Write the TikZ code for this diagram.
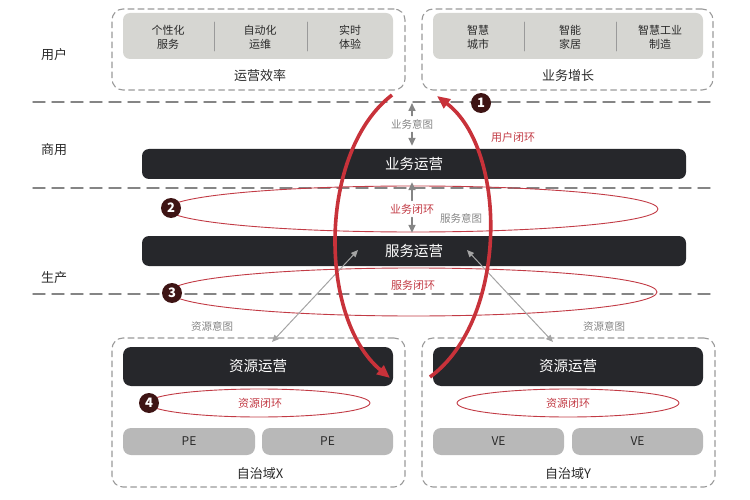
\documentclass[tikz,border=0pt]{standalone}
\usepackage{fontspec}
\setmainfont{Noto Sans CJK SC}
\usetikzlibrary{arrows.meta,calc,positioning,shapes.geometric}

\definecolor{barblack}{HTML}{26272B}
\definecolor{loopred}{HTML}{C8323A}
\definecolor{ellred}{HTML}{C23B45}
\definecolor{badgered}{HTML}{3E1414}
\definecolor{panegray}{HTML}{D6D6D2}
\definecolor{pegray}{HTML}{B8B8B8}
\definecolor{dashgray}{HTML}{9A9A9A}
\definecolor{arrgray}{HTML}{858585}
\definecolor{txtdark}{HTML}{2A2A2A}

\begin{document}
\begin{tikzpicture}[x=1pt, y=-1pt, line cap=round, line join=round,
  darkbar/.style={fill=barblack, rounded corners=7pt, text=white, inner sep=0pt,
    font=\fontsize{14.5}{16}\selectfont},
  dashbox/.style={draw=dashgray, line width=1.1pt, dash pattern=on 6pt off 4pt,
    rounded corners=11pt, inner sep=0pt},
  pebox/.style={fill=pegray, rounded corners=8pt, inner sep=0pt, text=txtdark,
    font=\fontsize{12}{13}\selectfont},
  loopell/.style={ellipse, draw=ellred, line width=0.9pt, inner sep=0pt},
  badge/.style={circle, fill=badgered, text=white, inner sep=0pt, minimum size=20pt,
    font=\fontsize{13}{14}\selectfont\bfseries},
  lbl/.style={text=txtdark, font=\fontsize{13}{14}\selectfont},
  small/.style={text=txtdark, font=\fontsize{11}{14}\selectfont, align=center},
  graylbl/.style={text=arrgray, font=\fontsize{10.5}{12}\selectfont},
  redlbl/.style={text=ellred, font=\fontsize{11}{12}\selectfont},
  intent/.style={draw=arrgray, line width=1.6pt, -{Triangle[length=8pt,width=7pt]}},
  resarrow/.style={draw=arrgray!75, line width=1pt, {Triangle[length=7pt,width=6pt]}-{Triangle[length=7pt,width=6pt]}},
  bigloop/.style={draw=loopred, line width=3.6pt, line cap=butt}]

  \useasboundingbox (0,0) rectangle (750,500);

  % layer separators
  \foreach \yy in {102,188,294}
    \draw[arrgray, line width=1.4pt, dash pattern=on 12pt off 7pt] (33,\yy) -- (715,\yy);

  % layer names
  \node[lbl] (user) at (54,55) {用户};
  \node[lbl] (biz)  at (54,150) {商用};
  \node[lbl] (prod) at (54,278) {生产};

  % top left: operation efficiency
  \node[dashbox, minimum width=293, minimum height=81] (effbox) at (258.5,49.5) {};
  \node[fill=panegray, rounded corners=7pt, minimum width=270, minimum height=46] (effpane) at (258,36) {};
  \draw[dashgray, line width=0.8pt] (214,22) -- (214,51) (307,22) -- (307,51);
  \node[small] (e1) at (168,37) {个性化\\服务};
  \node[small] (e2) at (260,37) {自动化\\运维};
  \node[small] (e3) at (350,37) {实时\\体验};
  \node[lbl] (efftxt) at (260,76) {运营效率};

  % top right: business growth
  \node[dashbox, minimum width=291, minimum height=81] (growbox) at (567.5,49.5) {};
  \node[fill=panegray, rounded corners=7pt, minimum width=270, minimum height=46] (growpane) at (568,36) {};
  \draw[dashgray, line width=0.8pt] (524,22) -- (524,51) (616,22) -- (616,51);
  \node[small] (g1) at (478,37) {智慧\\城市};
  \node[small] (g2) at (570,37) {智能\\家居};
  \node[small] (g3) at (660,37) {智慧工业\\制造};
  \node[lbl] (growtxt) at (568,76) {业务增长};

  % operation bars
  \node[darkbar, minimum width=544, minimum height=30] (bizbar) at (414,164) {业务运营};
  \node[darkbar, minimum width=544, minimum height=30] (svcbar) at (414,251) {服务运营};

  % loops 2 and 3
  \node[loopell, minimum width=490, minimum height=46] (loop2) at (413,209) {};
  \node[loopell, minimum width=487, minimum height=48] (loop3) at (413.5,292) {};
  \node[redlbl] (loop2txt) at (412,209) {业务闭环};
  \node[redlbl] (loop3txt) at (413,285) {服务闭环};

  % autonomous domain X
  \node[dashbox, minimum width=293, minimum height=149] (domX) at (258.5,412.5) {};
  \node[darkbar, rounded corners=8pt, minimum width=270, minimum height=39] (resX) at (258,366.5) {资源运营};
  \node[loopell, minimum width=222, minimum height=28] (loopX) at (259,403) {};
  \node[redlbl] (loopXtxt) at (260,403) {资源闭环};
  \node[pebox, minimum width=132, minimum height=27] (pe1) at (189,441.5) {PE};
  \node[pebox, minimum width=131, minimum height=27] (pe2) at (327.5,441.5) {PE};
  \node[lbl] (domXtxt) at (260,474) {自治域X};

  % autonomous domain Y
  \node[dashbox, minimum width=293, minimum height=149] (domY) at (568.5,412.5) {};
  \node[darkbar, rounded corners=8pt, minimum width=270, minimum height=39] (resY) at (568,366.5) {资源运营};
  \node[loopell, minimum width=222, minimum height=28] (loopY) at (568,403) {};
  \node[redlbl] (loopYtxt) at (568,403) {资源闭环};
  \node[pebox, minimum width=131, minimum height=27] (ve1) at (498.5,441.5) {VE};
  \node[pebox, minimum width=131, minimum height=27] (ve2) at (637.5,441.5) {VE};
  \node[lbl] (domYtxt) at (568,474) {自治域Y};

  % intent arrows
  \node[graylbl] (bizint) at (412,124) {业务意图};
  \coordinate (biztop) at (412,103);
  \draw[intent] (bizint.north) -- (biztop);
  \draw[intent] (bizint.south) -- ($(bizint.south |- bizbar.north)+(0,-3)$);
  \draw[intent] (loop2txt.north) -- ($(loop2txt.north |- bizbar.south)+(0,3)$);
  \draw[intent] (loop2txt.south) -- ($(loop2txt.south |- svcbar.north)+(0,-3)$);
  \node[graylbl] (svcint) at (461,218) {服务意图};

  \coordinate (svcL) at (358,250);
  \coordinate (svcR) at (467,250);
  \coordinate (resXtip) at (272,342);
  \coordinate (resYtip) at (553,342);
  \draw[resarrow] (svcL) -- (resXtip);
  \draw[resarrow] (svcR) -- (resYtip);
  \node[graylbl] (resintX) at (212,326) {资源意图};
  \node[graylbl] (resintY) at (604,326) {资源意图};

  % user loop
  \coordinate (loopA) at (392,95);
  \coordinate (loopB) at (390,378);
  \coordinate (loopC) at (430,377);
  \coordinate (loopD) at (437,96);
  \draw[bigloop, -{Triangle[length=13pt,width=11pt]}] (loopA) .. controls (318,152) and (318,318) .. (loopB);
  \draw[bigloop, -{Triangle[length=13pt,width=11pt]}] (loopC) .. controls (508,320) and (508,150) .. (loopD);
  \node[redlbl] (userloop) at (513,137) {用户闭环};

  % badges
  \node[badge] (b1) at (481,103) {1};
  \node[badge] (b2) at (171,208) {2};
  \node[badge] (b3) at (172,293) {3};
  \node[badge] (b4) at (149,403) {4};

\end{tikzpicture}
\end{document}
